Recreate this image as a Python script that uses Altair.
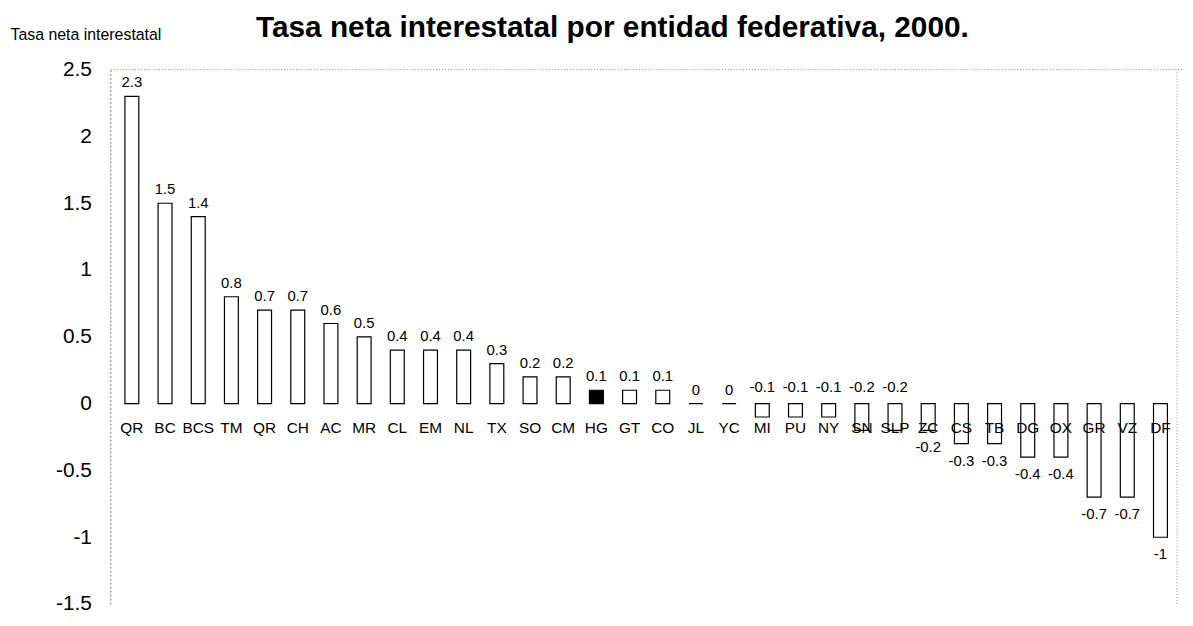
import altair as alt
import pandas as pd

entidades = ["QR", "BC", "BCS", "TM", "QR", "CH", "AC", "MR", "CL", "EM", "NL", "TX",
             "SO", "CM", "HG", "GT", "CO", "JL", "YC", "MI", "PU", "NY", "SN", "SLP",
             "ZC", "CS", "TB", "DG", "OX", "GR", "VZ", "DF"]
tasas = [2.3, 1.5, 1.4, 0.8, 0.7, 0.7, 0.6, 0.5, 0.4, 0.4, 0.4, 0.3,
         0.2, 0.2, 0.1, 0.1, 0.1, 0, 0, -0.1, -0.1, -0.1, -0.2, -0.2,
         -0.2, -0.3, -0.3, -0.4, -0.4, -0.7, -0.7, -1.0]
destacado = "HG"
etiqueta_arriba = ["MI", "PU", "NY", "SN", "SLP"]  # negative labels shown above zero
y_ticks = [-1.5, -1, -0.5, 0, 0.5, 1, 1.5, 2, 2.5]

df = pd.DataFrame({"ent": entidades, "tasa": tasas})
df["pos"] = [i + 0.5 for i in range(len(df))]
df["base0"] = 0.0
df["txt"] = [f"{v:g}" for v in df["tasa"]]
df["side"] = ["p" if v >= 0 else ("u" if e in etiqueta_arriba else "d")
              for e, v in zip(df["ent"], df["tasa"])]

FONT = "Liberation Sans"
xs = alt.Scale(domain=[0, len(df)], nice=False, zero=False)
ys = alt.Scale(domain=[-1.5, 2.5], nice=False, zero=False)

yax = alt.Axis(values=y_ticks, labelExpr="'' + datum.value", ticks=False,
               grid=False, labelPadding=19, labelFontSize=21,
               labelFont=FONT, labelColor="black",
               domainColor="#777", domainDash=[2, 2],
               title="Tasa neta interestatal", titleAngle=0,
               titleX=-101, titleY=-35, titleAlign="left",
               titleBaseline="middle", titleFontSize=16,
               titleFontWeight="normal", titleFont=FONT,
               titleColor="black")

base = alt.Chart(df)

bars = base.mark_bar(width=14, stroke="black", strokeWidth=1.2).encode(
    x=alt.X("pos:Q", scale=xs, axis=None),
    y=alt.Y("tasa:Q", scale=ys, axis=yax),
    y2=alt.Y2("base0:Q"),
    fill=alt.condition(alt.datum.ent == destacado, alt.value("black"), alt.value("white")),
)

def txt_layer(side, yfield, dy, size=15, field="txt"):
    src = base if side is None else base.transform_filter(f"datum.side == '{side}'")
    return src.mark_text(dy=dy, fontSize=size, font=FONT, baseline="middle",
                         color="black").encode(
        x=alt.X("pos:Q", scale=xs, axis=None),
        y=alt.Y(f"{yfield}:Q", scale=ys, axis=yax),
        text=alt.Text(f"{field}:N"))

lab_pos = txt_layer("p", "tasa", -14)
lab_up = txt_layer("u", "base0", -17)
lab_down = txt_layer("d", "tasa", 17)
cats = txt_layer(None, "base0", 25, size=15.5, field="ent")

top_border = alt.Chart(pd.DataFrame({"y": [2.5]})).mark_rule(
    color="#888", strokeDash=[1, 2], strokeWidth=1).encode(
    y=alt.Y("y:Q", scale=ys, axis=yax))
right_border = alt.Chart(pd.DataFrame({"x": [float(len(df))]})).mark_rule(
    color="#888", strokeDash=[1, 2], strokeWidth=1).encode(
    x=alt.X("x:Q", scale=xs, axis=None))

chart = alt.layer(top_border, right_border, bars, lab_pos, lab_up, lab_down, cats).properties(
    width=1079, height=538,
    title=alt.TitleParams("Tasa neta interestatal por entidad federativa, 2000.",
                          fontSize=30, font=FONT, fontWeight="bold", anchor="middle",
                          frame="group", dx=-34, offset=-16, color="black"),
    autosize=alt.AutoSizeParams(type="none"),
    padding={"left": 103, "top": 60, "right": 3, "bottom": 12},
).configure_view(strokeWidth=0)

chart.save("out.html", embed_options={"renderer": "svg", "actions": False})
